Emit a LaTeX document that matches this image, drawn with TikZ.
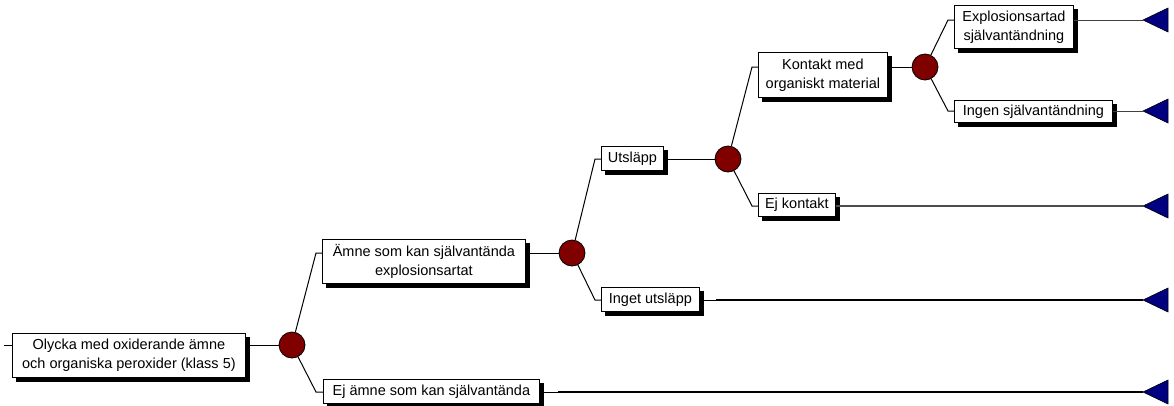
\documentclass[tikz,border=0pt]{standalone}
\usepackage{fontspec}
\setmainfont{Liberation Sans}
\usetikzlibrary{calc}
\definecolor{chancered}{RGB}{128,0,0}
\definecolor{endblue}{RGB}{0,0,128}
\begin{document}
\begin{tikzpicture}[x=1pt, y=-1pt, line width=1pt,
    evbox/.style={draw, fill=white, line width=0.8pt, align=center, inner xsep=2pt, inner ysep=1pt,
      anchor=north west, font=\fontsize{14.5}{19}\selectfont},
    onebox/.style={evbox, minimum height=24pt},
    twobox/.style={evbox, minimum height=44pt},
    chance/.style={circle, draw, fill=chancered, line width=0.8pt, minimum size=26pt, inner sep=0pt},
    heavy/.style={line width=2.6pt},
    endmark/.style={draw, fill=endblue, line width=0.6pt}]
	\useasboundingbox (0,0) rectangle (1174,405);
	
	% 1. 事件框
	\node[twobox, minimum width=233pt] (olycka) at (12,333) {Olycka med oxiderande ämne\\och organiska peroxider (klass 5)};
	\node[twobox, minimum width=203pt] (amne) at (322,239) {Ämne som kan självantända\\explosionsartat};
	\node[onebox, minimum width=216pt] (ejamne) at (323,379) {Ej ämne som kan självantända};
	\node[onebox, minimum width=62pt] (utslapp) at (601,146) {Utsläpp};
	\node[onebox, minimum width=98pt] (inget) at (601,287) {Inget utsläpp};
	\node[twobox, minimum width=129pt, minimum height=45pt] (kontakt) at (758,52) {Kontakt med\\organiskt material};
	\node[onebox, minimum width=77pt, minimum height=23pt] (ejkontakt) at (758,193) {Ej kontakt};
	\node[twobox, minimum width=119pt, minimum height=43pt] (expl) at (954,5) {Explosionsartad\\självantändning};
	\node[onebox, minimum width=158pt, minimum height=22pt] (ingen) at (954,100) {Ingen självantändning};
	
	% 2. 框的阴影
	\foreach \bx in {olycka,amne,ejamne,utslapp,inget,kontakt,ejkontakt,expl,ingen}{
		\fill[black] ($(\bx.north east)+(0.4,4)$) rectangle ($(\bx.south east)+(4,4)$);
		\fill[black] ($(\bx.south west)+(4,0.4)$) rectangle ($(\bx.south east)+(4,4)$);
	}
	
	% 3. 机会节点
	\node[chance] (c1) at (292,345) {};
	\node[chance] (c2) at (572,253) {};
	\node[chance] (c3) at (728,159) {};
	\node[chance] (c4) at (925,67) {};
	
	% 4. 折点与终点
	\coordinate (start) at (4,345);
	\coordinate (k1) at (316,253);
	\coordinate (k2) at (316,392);
	\coordinate (k3) at (595,159);
	\coordinate (k4) at (595,300);
	\coordinate (k5) at (752,67);
	\coordinate (k6) at (752,206);
	\coordinate (k7) at (948,20);
	\coordinate (k8) at (948,111);
	\coordinate (t1) at (1143,20);
	\coordinate (t2) at (1143,111);
	\coordinate (t3) at (1143,206);
	\coordinate (t4) at (1143,300);
	\coordinate (t5) at (1143,392);
	\coordinate (w4) at (716,300);
	\coordinate (w5) at (558,392);
	
	% 5. 分支连线
	\draw (start) -- (olycka.west |- start);
	\draw (olycka.east |- c1) -- (c1);
	\draw (c1) -- (k1) -- (amne.west |- k1);
	\draw (c1) -- (k2) -- (ejamne.west |- k2);
	\draw (amne.east |- c2) -- (c2);
	\draw (c2) -- (k3) -- (utslapp.west |- k3);
	\draw (c2) -- (k4) -- (inget.west |- k4);
	\draw (utslapp.east |- c3) -- (c3);
	\draw (c3) -- (k5) -- (kontakt.west |- k5);
	\draw (c3) -- (k6) -- (ejkontakt.west |- k6);
	\draw (kontakt.east |- c4) -- (c4);
	\draw (c4) -- (k7) -- (expl.west |- k7);
	\draw (c4) -- (k8) -- (ingen.west |- k8);
	
	% 6. 终端线与三角
	\draw[black!75] (expl.east |- t1) -- (t1);
	\draw[black!75] (ingen.east |- t2) -- (t2);
	\draw[black!70, line width=1.6pt] (ejkontakt.east |- t3) -- (t3);
	\draw (inget.east |- t4) -- (t4);
	\draw[heavy] (w4) -- (t4);
	\draw (ejamne.east |- t5) -- (t5);
	\draw[heavy] (w5) -- (t5);
	\foreach \t in {t1,t2,t3,t4,t5}
		\draw[endmark] (\t) -- ++(25,-12) -- ++(0,24) -- cycle;
\end{tikzpicture}
\end{document}
